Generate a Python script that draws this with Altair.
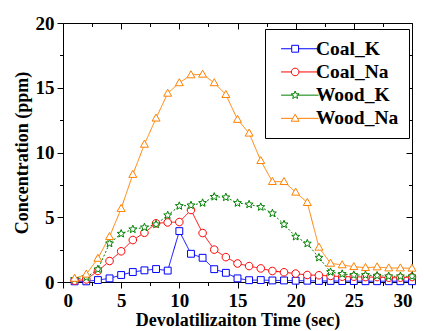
import math
import altair as alt
import pandas as pd

# ---- data ----
time_sec = [1, 2, 3, 4, 5, 6, 7, 8, 9, 10, 11, 12, 13, 14, 15,
            16, 17, 18, 19, 20, 21, 22, 23, 24, 25, 26, 27, 28, 29, 30]
coal_k = [0.05, 0.05, 0.15, 0.28, 0.54, 0.77, 0.9, 1.0, 0.88, 3.93, 2.18, 1.87, 0.99, 0.71, 0.28,
          0.14, 0.15, 0.12, 0.12, 0.1, 0.1, 0.08, 0.08, 0.07, 0.07, 0.06, 0.06, 0.06, 0.06, 0.06]
coal_na = [0.1, 0.2, 0.85, 1.62, 2.37, 3.24, 3.8, 4.53, 4.6, 4.63, 5.56, 3.78, 2.5, 1.92, 1.43,
           1.23, 1.05, 0.85, 0.75, 0.65, 0.54, 0.52, 0.47, 0.41, 0.41, 0.38, 0.38, 0.33, 0.33, 0.38]
wood_k = [0.23, 0.36, 0.98, 2.98, 3.73, 4.07, 4.22, 4.45, 5.15, 5.87, 5.92, 6.1, 6.58, 6.54, 6.1,
          5.99, 5.79, 5.3, 4.45, 3.5, 2.97, 1.88, 0.77, 0.62, 0.54, 0.54, 0.49, 0.44, 0.44, 0.44]
wood_na = [0.28, 0.6, 1.82, 3.5, 5.67, 8.3, 10.63, 12.65, 14.57, 15.38, 15.99, 16.04, 15.38, 14.47, 12.55,
           11.49, 9.37, 7.75, 7.75, 6.93, 6.13, 2.68, 1.44, 1.32, 1.18, 1.11, 1.16, 1.08, 1.08, 1.06]

series_names = ["Coal_K", "Coal_Na", "Wood_K", "Wood_Na"]
series_colors = ["#0000FF", "#FF0000", "#008000", "#FF8000"]
series_dash = [[1, 0], [1, 0], [2, 2], [1, 0]]

x_ticks = [0, 2.5, 5, 7.5, 10, 12.5, 15, 17.5, 20, 22.5, 25, 27.5, 30]
y_ticks = [0, 2.5, 5, 7.5, 10, 12.5, 15, 17.5, 20]
x_major = [0, 5, 10, 15, 20, 25, 30]
x_minor = [2.5, 7.5, 12.5, 17.5, 22.5, 27.5]
y_major = [0, 5, 10, 15, 20]
y_minor = [2.5, 7.5, 12.5, 17.5]

rows = []
for name, vals in zip(series_names, [coal_k, coal_na, wood_k, wood_na]):
    for t, v in zip(time_sec, vals):
        rows.append({"time": t, "conc": v, "series": name})
df = pd.DataFrame(rows)

# ---- marker shapes (unit paths) ----
def star_pts(R=1.15, r=0.5):
    pts = []
    for i in range(10):
        ang = -math.pi / 2 + i * math.pi / 5
        rad = R if i % 2 == 0 else r
        pts.append((rad * math.cos(ang), rad * math.sin(ang)))
    return pts

def poly(pts):
    return "M" + "L".join(f"{x:.3f},{y:.3f}" for x, y in pts) + "Z"

square = "M-0.95,-0.95H0.95V0.95H-0.95Z"
circle = "M-1.05,0A1.05,1.05 0 1,0 1.05,0A1.05,1.05 0 1,0 -1.05,0Z"
star = poly(star_pts())
triangle = "M0,-1.15L1.1,0.8L-1.1,0.8Z"
marker_paths = [square, circle, star, triangle]
half_widths = [0.95, 1.05, 0.64, 0.65]

LL, LR = 3.9, 6.5
legend_paths = [f"M{-LL},0H{-a}M{a},0H{LR}" + p for p, a in zip(marker_paths, half_widths)]

FONT = "Liberation Serif"
SZ = 52

base = alt.Chart(df)

xs = alt.Scale(domain=[0, 30], nice=False)
ys = alt.Scale(domain=[0, 20], nice=False)

lines = base.mark_line(strokeWidth=1).encode(
    x=alt.X("time:Q", scale=xs, title="Devolatilizaiton Time (sec)",
            axis=alt.Axis(values=x_ticks, labelExpr="datum.value % 5 === 0 ? datum.label : ''",
                          tickSize={"condition": {"test": "datum.value % 5 === 0", "value": 6}, "value": 3.5},
                          grid=False, labelPadding=3, titlePadding=1)),
    y=alt.Y("conc:Q", scale=ys, title="Concentration (ppm)",
            axis=alt.Axis(values=y_ticks, labelExpr="datum.value % 5 === 0 ? datum.label : ''",
                          tickSize={"condition": {"test": "datum.value % 5 === 0", "value": 6}, "value": 3.5},
                          grid=False, labelPadding=3, titlePadding=4)),
    color=alt.Color("series:N", scale=alt.Scale(domain=series_names, range=series_colors), legend=None),
    strokeDash=alt.StrokeDash("series:N", scale=alt.Scale(domain=series_names, range=series_dash), legend=None),
    detail="series:N",
)

points = base.mark_point(filled=False, fill="white", opacity=1, size=SZ, strokeWidth=1).encode(
    x=alt.X("time:Q", scale=xs, axis=None),
    y=alt.Y("conc:Q", scale=ys, axis=None),
    color=alt.Color("series:N", scale=alt.Scale(domain=series_names, range=series_colors), legend=None),
    shape=alt.Shape("series:N", scale=alt.Scale(domain=series_names, range=marker_paths), legend=None),
)

leg = alt.Legend(title=None, orient="none", legendX=202, legendY=6,
                 fillColor="white", strokeColor="black", padding=10,
                 labelFont=FONT, labelFontWeight="bold", labelFontSize=19.5, labelColor="black",
                 symbolSize=SZ, symbolStrokeWidth=1, symbolFillColor="white",
                 symbolOffset=10.4, labelOffset=11, rowPadding=2.2, labelLimit=300)

legend_layer = base.transform_filter("false").mark_point(
    filled=False, fill="white", opacity=1, size=SZ, strokeWidth=1).encode(
    x=alt.X("time:Q", scale=xs, axis=alt.Axis(orient="top", values=x_major, labels=False, title=None,
                                              domain=False, grid=False, tickSize=6, offset=-6)),
    y=alt.Y("conc:Q", scale=ys, axis=alt.Axis(orient="right", values=y_major, labels=False, title=None,
                                              domain=False, grid=False, tickSize=6, offset=-6)),
    color=alt.Color("series:N", scale=alt.Scale(domain=series_names, range=series_colors), legend=leg),
    shape=alt.Shape("series:N", scale=alt.Scale(domain=series_names, range=legend_paths), legend=leg),
)

minor_layer = base.transform_filter("false").mark_point(opacity=0).encode(
    x=alt.X("time:Q", scale=xs, axis=alt.Axis(orient="top", values=x_minor, labels=False, title=None,
                                              domain=False, grid=False, tickSize=3.5, offset=-3.5)),
    y=alt.Y("conc:Q", scale=ys, axis=alt.Axis(orient="right", values=y_minor, labels=False, title=None,
                                              domain=False, grid=False, tickSize=3.5, offset=-3.5)),
)

chart = alt.layer(lines, points, legend_layer, minor_layer).resolve_scale(
    color="independent", shape="independent"
).resolve_axis(x="independent", y="independent").properties(
    width=349, height=259, background="white",
    padding={"left": 63, "top": 23, "right": 12, "bottom": 49},
    autosize=alt.AutoSizeParams(type="none"),
).configure_view(stroke="black", strokeWidth=1).configure_axis(
    domainColor="black", tickColor="black", labelColor="black", titleColor="black",
    labelFont=FONT, labelFontWeight="bold", labelFontSize=19,
    titleFont=FONT, titleFontWeight="bold", titleFontSize=18,
)

chart.save("out.html", embed_options={"renderer": "svg", "actions": False})
